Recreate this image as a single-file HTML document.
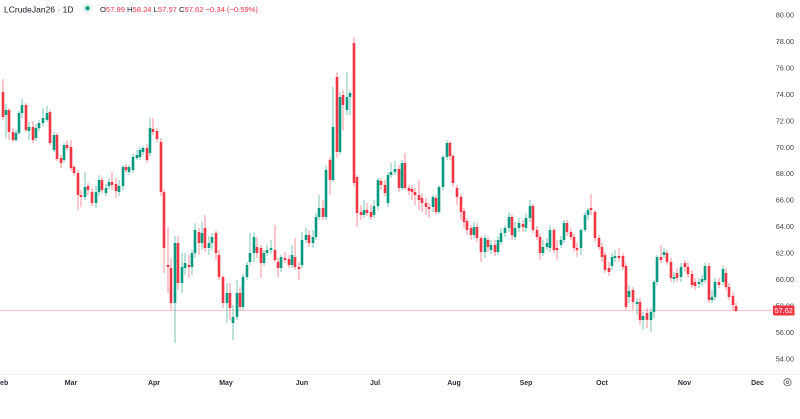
<!DOCTYPE html>
<html>
<head>
<meta charset="utf-8">
<style>
html,body{margin:0;padding:0;background:#fff;}
body{width:800px;height:419px;overflow:hidden;}
svg{display:block;font-family:"Liberation Sans",sans-serif;}
</style>
</head>
<body>
<svg width="800" height="419" viewBox="0 0 800 419" xmlns="http://www.w3.org/2000/svg">
<rect width="800" height="419" fill="#fff"/>
<!-- bottom axis line -->
<line x1="0" y1="374.5" x2="800" y2="374.5" stroke="#eceef2" stroke-width="1"/>
<!-- last price line -->
<line x1="0" y1="310.5" x2="773" y2="310.5" stroke="#f23645" stroke-opacity="0.3" stroke-width="1"/>

<!-- red wicks -->
<path fill="none" stroke="#f23645" stroke-opacity="0.55" stroke-width="1" d="M3 79V120M9 108V140M13 128V142M26 103V132M33 121V143M50 110V145M57 133V161M61 155V168M67 140V150M71 140V171M74 165V176M78 170V210M81 190V207M88 183V195M92 188V206M102 177V193M112 172V190M116 178V198M126 164V173M147 144V163M153 118V135M157 128V142M161 138V196M164 190V273M168 227V293M171 258V310M178 236V290M189 255V278M199 228V255M205 215V252M216 230V260M219 250V280M223 275V308M230 283V320M240 287V310M257 237V258M261 245V278M275 225V262M278 258V277M285 252V263M289 255V268M295 238V270M299 262V280M309 230V247M323 200V220M330 157V195M337 72V158M343 90V130M354 37V186M357 175V227M361 205V220M367 203V216M371 205V220M381 178V190M385 180V196M399 165V192M405 153V190M409 185V195M412 185V200M415 188V205M419 180V210M422 193V212M426 198V215M429 203V218M436 195V215M450 141V160M453 154V187M457 185V205M461 194V220M464 208V228M467 218V235M471 225V240M477 223V242M481 236V262M488 237V252M495 240V256M512 214V240M523 220V232M533 204V233M537 226V240M540 234V260M554 228V253M557 240V260M567 220V236M571 228V240M574 234V252M577 243V257M591 194V215M595 210V242M599 235V250M602 243V262M605 252V273M609 262V276M619 248V262M623 253V270M626 263V310M633 287V310M640 298V325M647 308V328M661 245V263M667 250V265M671 258V282M677 268V282M685 260V272M688 262V278M692 270V288M695 278V290M709 263V303M719 278V288M726 268V290M729 283V300M733 292V311M736 303V312"/>
<!-- green wicks -->
<path fill="none" stroke="#089981" stroke-opacity="0.55" stroke-width="1" d="M6 104V138M16 130V142M19 111V135M22 99V118M29 122V140M36 124V141M39 120V131M43 108V126M47 106V122M54 132V152M64 143V162M85 172V200M96 186V208M99 175V196M106 184V196M109 178V189M119 180V196M123 165V190M129 165V175M133 154V173M137 150V160M140 147V160M143 146V155M150 118V156M175 236V343M182 253V293M185 253V275M192 250V275M195 223V258M202 222V250M209 236V255M212 233V250M227 283V323M233 305V340M237 280V320M243 274V310M247 262V280M250 233V265M254 232V262M264 250V266M267 245V256M271 240V254M281 255V272M292 245V268M302 232V268M306 228V243M313 230V248M316 213V240M319 195V220M326 165V220M333 87V182M340 92V155M347 72V115M350 90V115M364 200V218M374 200V218M378 178V210M388 172V207M391 163V178M395 161V175M402 160V190M433 195V212M439 185V214M443 155V190M447 140V160M474 222V238M485 235V258M491 240V254M498 236V255M501 228V245M505 225V237M509 212V232M515 222V240M519 218V232M526 213V232M530 200V222M543 240V256M547 238V250M550 225V252M561 236V248M564 220V243M581 228V255M585 212V232M588 208V220M612 253V270M615 250V262M629 285V303M637 298V315M643 312V330M651 308V332M654 280V318M657 255V285M664 248V258M674 272V283M681 263V282M699 278V288M702 275V286M705 263V283M712 290V303M715 278V300M723 266V285"/>

<!-- red bodies -->
<path fill="none" stroke="#f23645" stroke-width="2.6" d="M3 92V117M9 110V132M13 132V140M26 105V130M33 127V140M50 112V143M57 135V159M61 158V163M67 145V148M71 147V168M74 167V173M78 173V195M81 195V197M88 186V190M92 192V203M102 180V190M112 182V185M116 184V191M126 167V170M147 148V160M153 129V132M157 131V139M161 142V192M164 192V248M168 265V267M171 268V303M178 243V283M189 265V267M199 232V243M205 228V248M216 233V253M219 255V277M223 277V303M230 293V308M240 293V307M257 247V253M261 248V263M275 250V260M278 262V268M285 258V260M289 259V265M295 257V267M299 267V269M309 235V243M323 208V217M330 160V180M337 77V152M343 95V105M354 43V183M357 177V213M361 212V215M367 210V213M371 212V217M381 181V185M385 185V193M399 169V188M405 163V188M409 188V191M412 189V192M415 192V195M419 195V200M422 198V203M426 203V207M429 207V209M436 198V212M450 143V156M453 156V183M457 188V197M461 197V212M464 211V222M467 221V230M471 228V235M477 227V238M481 238V252M488 240V247M495 245V252M512 217V235M523 224V227M533 206V230M537 230V237M540 237V253M554 230V250M557 248V250M567 223V232M571 232V237M574 237V248M577 248V250M591 208V210M595 212V238M599 238V247M602 247V257M605 255V270M609 268V272M619 256V258M623 256V267M626 266V307M633 290V302M640 302V320M647 313V320M661 257V260M667 253V262M671 262V278M677 273V278M685 263V267M688 267V274M692 274V285M695 282V286M709 266V300M719 282V285M726 273V287M729 287V297M733 296V305M736 306V311"/>
<!-- green bodies -->
<path fill="none" stroke="#089981" stroke-width="2.6" d="M6 110V115M16 133V140M19 113V133M22 105V113M29 127V131M36 128V138M39 123V128M43 118V123M47 113V120M54 135V150M64 145V160M85 187V197M96 192V203M99 180V192M106 188V193M109 182V186M119 186V192M123 167V186M129 167V172M133 157V170M137 155V158M140 150V157M143 148V152M150 128V153M175 243V303M182 267V283M185 263V268M192 253V267M195 230V253M202 233V243M209 243V248M212 237V243M227 293V303M233 317V323M237 293V317M243 277V307M247 265V277M250 253V262M254 237V253M264 253V263M267 250V253M271 248V250M281 257V268M292 255V265M302 240V265M306 235V240M313 237V243M316 217V237M319 208V217M326 170V217M333 127V180M340 97V152M347 97V110M350 93V97M364 210V215M374 206V215M378 180V206M388 175V203M391 172V175M395 169V172M402 163V188M433 197V207M439 187V212M443 157V187M447 143V157M474 227V235M485 238V252M491 245V250M498 240V252M501 233V242M505 228V233M509 217V228M515 228V237M519 223V228M526 218V228M530 206V218M543 247V253M547 243V247M550 230V248M561 240V245M564 223V240M581 230V248M585 215V230M588 210V215M612 257V266M615 256V258M629 291V297M637 302V304M643 316V320M651 312V320M654 282V312M657 257V282M664 252V255M674 277V279M681 267V277M699 282V284M702 279V282M705 266V280M712 297V300M715 282V297M723 269V282"/>

<!-- right axis labels -->
<g font-size="7.3" fill="#444" text-anchor="end">
<text x="794" y="17.6">80.00</text>
<text x="794" y="44">78.00</text>
<text x="794" y="70.5">76.00</text>
<text x="794" y="96.9">74.00</text>
<text x="794" y="123.4">72.00</text>
<text x="794" y="149.8">70.00</text>
<text x="794" y="176.2">68.00</text>
<text x="794" y="202.7">66.00</text>
<text x="794" y="229.1">64.00</text>
<text x="794" y="255.6">62.00</text>
<text x="794" y="282">60.00</text>
<text x="794" y="308.4">58.00</text>
<text x="794" y="334.9">56.00</text>
<text x="794" y="361.3">54.00</text>
</g>
<!-- last price label -->
<rect x="773" y="305.5" width="21.5" height="10" rx="1" fill="#f23645"/>
<text x="783.7" y="313.2" font-size="7.3" fill="#fff" text-anchor="middle">57.62</text>

<!-- month labels -->
<g font-size="7" font-weight="bold" fill="#2a2e39" text-anchor="middle">
<text x="2" y="385.2">Feb</text>
<text x="71" y="385.2">Mar</text>
<text x="154" y="385.2">Apr</text>
<text x="226" y="385.2">May</text>
<text x="302" y="385.2">Jun</text>
<text x="375" y="385.2">Jul</text>
<text x="454" y="385.2">Aug</text>
<text x="526" y="385.2">Sep</text>
<text x="602" y="385.2">Oct</text>
<text x="684.5" y="385.2">Nov</text>
<text x="757.5" y="385.2">Dec</text>
</g>
<!-- gear icon -->
<circle cx="787.5" cy="382.3" r="3.6" fill="none" stroke="#555" stroke-width="0.8"/>
<circle cx="787.5" cy="382.3" r="1.3" fill="none" stroke="#555" stroke-width="0.7"/>

<!-- header -->
<text x="4" y="12.4" font-size="8.5" fill="#131722">LCrudeJan26 · 1D</text>
<circle cx="87.5" cy="8.3" r="4.5" fill="#089981" fill-opacity="0.15"/>
<circle cx="87.5" cy="8.3" r="2" fill="#089981"/>
<text x="100" y="12.2" font-size="7.6" fill="#f23645"><tspan fill="#131722">O</tspan>57.99 <tspan fill="#131722">H</tspan>58.24 <tspan fill="#131722">L</tspan>57.57 <tspan fill="#131722">C</tspan>57.62 −0.34 (−0.59%)</text>
</svg>
</body>
</html>
